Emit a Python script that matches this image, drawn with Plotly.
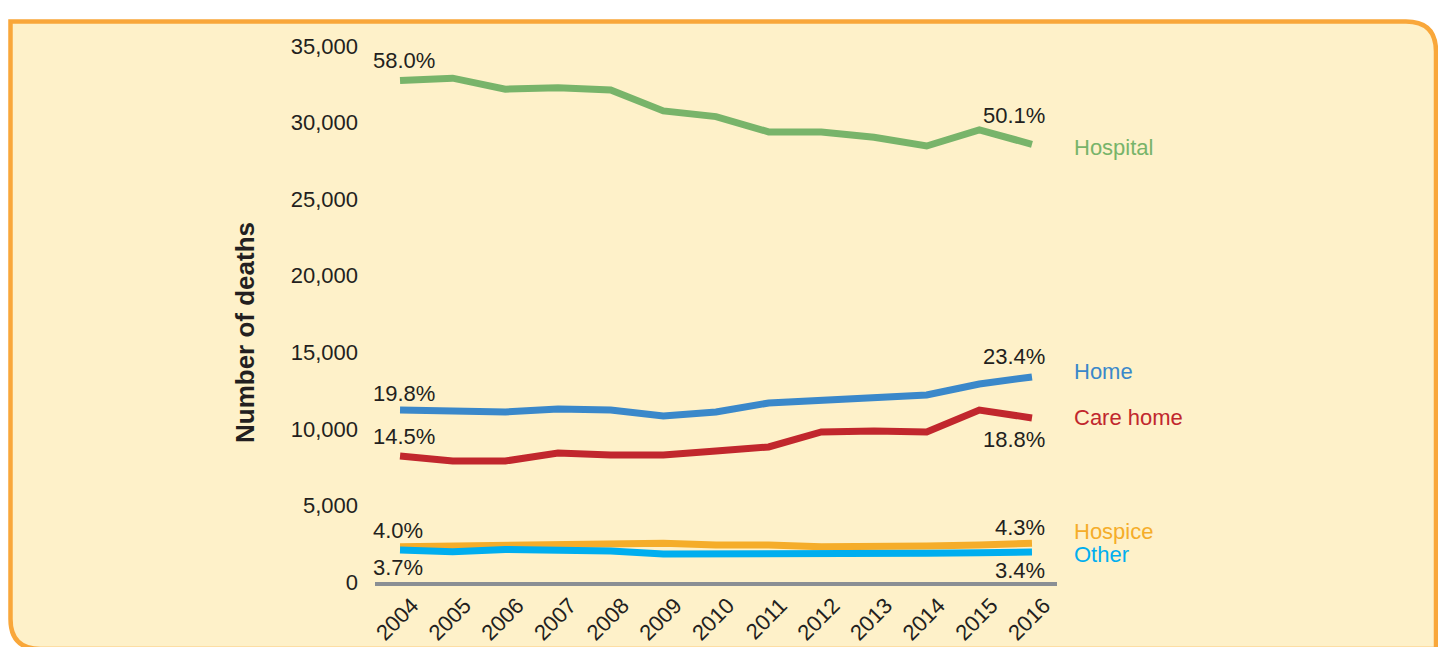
import plotly.graph_objects as go

years = [2004, 2005, 2006, 2007, 2008, 2009, 2010, 2011, 2012, 2013, 2014, 2015, 2016]
hospital = [32740, 32900, 32180, 32280, 32130, 30760, 30390, 29390, 29390, 29040, 28470, 29520, 28580]
home = [11230, 11170, 11100, 11300, 11230, 10840, 11100, 11690, 11890, 12080, 12210, 12930, 13390]
care_home = [8230, 7900, 7900, 8420, 8290, 8290, 8550, 8820, 9800, 9860, 9800, 11230, 10710]
hospice = [2300, 2350, 2350, 2420, 2480, 2530, 2420, 2420, 2300, 2300, 2350, 2420, 2530]
other = [2090, 1980, 2130, 2090, 2020, 1830, 1830, 1760, 1870, 1830, 1870, 1910, 1960]

series_names = ["Hospital", "Home", "Care home", "Hospice", "Other"]
series_values = [hospital, home, care_home, hospice, other]
series_colors = ["#78B46A", "#3A88CA", "#C1272D", "#F5AD2A", "#00AEEF"]
start_pct = ["58.0%", "19.8%", "14.5%", "4.0%", "3.7%"]
end_pct = ["50.1%", "23.4%", "18.8%", "4.3%", "3.4%"]
y_ticks = [0, 5000, 10000, 15000, 20000, 25000, 30000, 35000]
y_tick_text = ["0", "5,000", "10,000", "15,000", "20,000", "25,000", "30,000", "35,000"]

W, H = 1438, 647
L, R, T, B = 375, 1057, 46, 582  # plot area in pixels

# label offsets (pixels)
start_yshift = [20, 17, 19, 16, -18]
end_yshift = [29, 20, -22, 16, -19]
name_yshift = [-3, 5, 0, 12, -3]

FONT = "Liberation Sans, Arial, sans-serif"
TXT = "#231F20"
FS = 22

fig = go.Figure()
for name, vals, col in zip(series_names, series_values, series_colors):
    fig.add_trace(go.Scatter(x=years, y=vals, mode="lines", name=name,
                             line=dict(color=col, width=7), hoverinfo="x+y+name"))

annotations = []
for i, vals in enumerate(series_values):
    annotations.append(dict(x=years[0], y=vals[0], xref="x", yref="y", text=start_pct[i],
                            showarrow=False, xanchor="left", yanchor="middle",
                            xshift=-29, yshift=start_yshift[i],
                            font=dict(family=FONT, size=FS, color=TXT)))
    annotations.append(dict(x=years[-1], y=vals[-1], xref="x", yref="y", text=end_pct[i],
                            showarrow=False, xanchor="right", yanchor="middle",
                            xshift=15, yshift=end_yshift[i],
                            font=dict(family=FONT, size=FS, color=TXT)))
    annotations.append(dict(x=years[-1], y=vals[-1], xref="x", yref="y", text=series_names[i],
                            showarrow=False, xanchor="left", yanchor="middle",
                            xshift=40, yshift=name_yshift[i],
                            font=dict(family=FONT, size=FS, color=series_colors[i])))

def px_to_paper_x(px):
    return (px - L) / (R - L)

def px_to_paper_y(py):
    return (B - py) / (B - T)

annotations.append(dict(x=px_to_paper_x(245), y=px_to_paper_y(333), xref="paper", yref="paper",
                        text="<b>Number of deaths</b>", textangle=-90, showarrow=False,
                        xanchor="center", yanchor="middle",
                        font=dict(family=FONT, size=26, color=TXT)))

# background panel: square top-left, rounded top-right and bottom-left
x0, y0, x1, y1, r = 10.5, 21.5, 1436, 649, 30
pts = [
    ("M", x0, y0),
    ("L", x1 - r, y0),
    ("Q", x1, y0, x1, y0 + r),
    ("L", x1, y1),
    ("L", x0 + r, y1),
    ("Q", x0, y1, x0, y1 - r),
]
path = ""
for p in pts:
    cmd = p[0]
    coords = p[1:]
    parts = []
    for k in range(0, len(coords), 2):
        parts.append(f"{px_to_paper_x(coords[k]):.5f},{px_to_paper_y(coords[k+1]):.5f}")
    path += cmd + " " + " ".join(parts) + " "
path += "Z"

fig.update_layout(
    width=W, height=H,
    margin=dict(l=L, r=W - R, t=T, b=H - B, autoexpand=False),
    paper_bgcolor="white",
    plot_bgcolor="rgba(0,0,0,0)",
    showlegend=False,
    annotations=annotations,
    shapes=[dict(type="path", path=path, xref="paper", yref="paper",
                 fillcolor="#FEF1C9", line=dict(color="#F9A73A", width=4.5), layer="below")],
    font=dict(family=FONT, color=TXT),
)
fig.update_xaxes(range=[2003.525, 2016.475], tickvals=years, ticktext=[str(y) for y in years],
                 tickangle=-45, showgrid=False, zeroline=False, automargin=False,
                 showline=True, linecolor="#8A8F94", linewidth=4,
                 ticks="", tickfont=dict(family=FONT, size=FS, color=TXT),
                 ticklabelshift=12, ticklabelstandoff=-2)
fig.update_yaxes(range=[0, 35000], tickvals=y_ticks, ticktext=y_tick_text, automargin=False,
                 showgrid=False, zeroline=False, showline=False, ticks="",
                 tickfont=dict(family=FONT, size=FS, color=TXT), ticklabelstandoff=16)

fig.write_html("out.html", config={"displayModeBar": False},
               post_script="document.body.style.margin='0';")
